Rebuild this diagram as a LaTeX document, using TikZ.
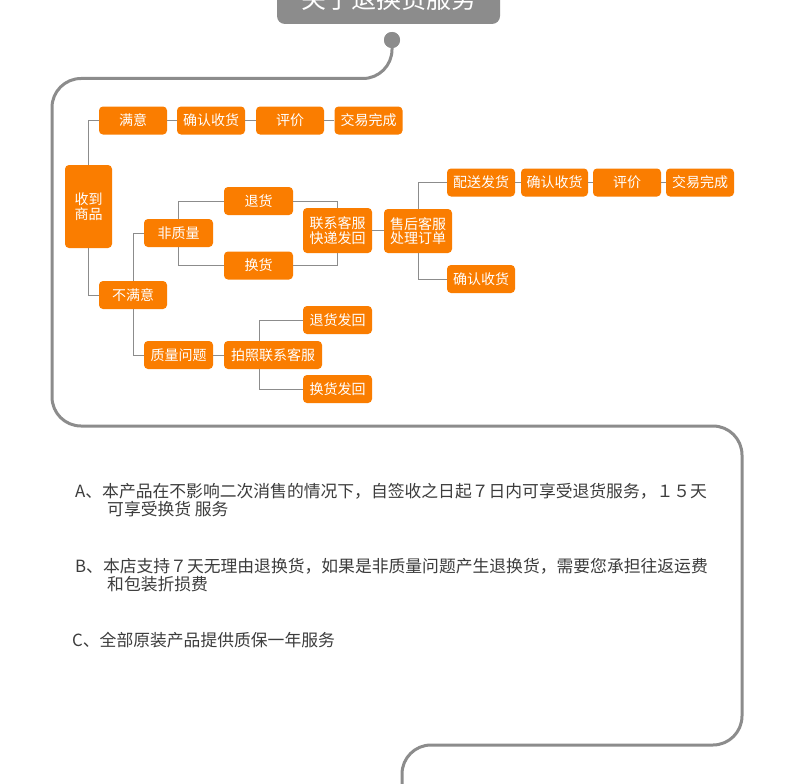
\documentclass[tikz,border=0pt]{standalone}
\usepackage{fontspec}
\setmainfont{Noto Sans CJK SC}
\definecolor{og}{RGB}{250,125,0}
\definecolor{ln}{RGB}{140,140,140}
\definecolor{tx}{RGB}{60,60,60}
\begin{document}
\begin{tikzpicture}[x=1pt,y=-1pt,
  ob/.style={fill=og,rounded corners=4pt,text=white,inner sep=0pt,
    minimum width=68pt,minimum height=28pt,align=center,
    font=\fontsize{14}{14.5}\selectfont},
  conn/.style={draw=ln,line width=1pt},
  para/.style={anchor=west,inner sep=0pt,text=tx,font=\fontsize{16.8}{18}\selectfont}]
\useasboundingbox[fill=white] (0,0) rectangle (790,784);
% title
\node[fill=ln,rounded corners=8pt,minimum width=223pt,minimum height=50pt,
  inner sep=0pt,text=white,font=\fontsize{25}{26}\selectfont] (title) at (388.5,-1) {关于退换货服务};
% main frame line
\node[circle,fill=ln,minimum size=16pt,inner sep=0pt] (dot) at (392,40) {};
\coordinate (c1) at (392,78.5);
\coordinate (c2) at (52,78.5);
\coordinate (c3) at (52,426);
\coordinate (c4) at (742,426);
\coordinate (c5) at (742,745);
\coordinate (c6) at (402,745);
\coordinate (c7) at (402,800);
\draw[ln,line width=3pt,rounded corners=29pt] (dot.center) -- (c1) -- (c2) -- (c3) -- (c4) -- (c5) -- (c6) -- (c7);
\node[circle,fill=ln,minimum size=16pt,inner sep=0pt] at (392,40) {};
% nodes
\node[ob] (my) at (133,120.5) {满意};
\node[ob] (qr1) at (211,120.5) {确认收货};
\node[ob] (pj1) at (290,120.5) {评价};
\node[ob] (jy1) at (368.5,120.5) {交易完成};
\node[ob,minimum width=47pt,minimum height=83pt] (sd) at (88.5,206.5) {收到\\商品};
\node[ob,minimum width=69pt] (th) at (258.5,201) {退货};
\node[ob,minimum width=69pt] (fzl) at (178.5,233) {非质量};
\node[ob,minimum width=69pt,minimum height=45pt] (lx) at (337.5,230.5) {联系客服\\快递发回};
\node[ob,minimum height=44pt] (sh) at (418,231) {售后客服\\处理订单};
\node[ob] (ps) at (481,182.5) {配送发货};
\node[ob,minimum width=67pt] (qr2) at (554.5,182.5) {确认收货};
\node[ob] (pj2) at (627,182.5) {评价};
\node[ob] (jy2) at (700,182.5) {交易完成};
\node[ob] (qr3) at (481,279) {确认收货};
\node[ob,minimum width=69pt] (hh) at (258.5,265.5) {换货};
\node[ob] (bmy) at (133,295) {不满意};
\node[ob,minimum width=69pt] (thfh) at (337.5,320) {退货发回};
\node[ob,minimum width=69pt] (zl) at (178.5,355) {质量问题};
\node[ob,minimum width=98pt] (pz) at (273,355) {拍照联系客服};
\node[ob,minimum width=69pt] (hhfh) at (337.5,389) {换货发回};
% connectors
\draw[conn] (sd.north) |- (my.west);
\draw[conn] (my) -- (qr1);
\draw[conn] (qr1) -- (pj1);
\draw[conn] (pj1) -- (jy1);
\draw[conn] (sd.south) |- (bmy.west);
\draw[conn] (bmy.north) |- (fzl.west);
\draw[conn] (bmy.south) |- (zl.west);
\draw[conn] (fzl.north) |- (th.west);
\draw[conn] (fzl.south) |- (hh.west);
\draw[conn] (th.east) -| (lx.north);
\draw[conn] (hh.east) -| (lx.south);
\draw[conn] (lx.east) -- (lx.east -| sh.west);
\draw[conn] (sh.north) |- (ps.west);
\draw[conn] (sh.south) |- (qr3.west);
\draw[conn] (ps) -- (qr2);
\draw[conn] (qr2) -- (pj2);
\draw[conn] (pj2) -- (jy2);
\draw[conn] (zl) -- (pz);
\coordinate (v) at (259,0);
\draw[conn] (pz.north -| v) |- (thfh.west);
\draw[conn] (pz.south -| v) |- (hhfh.west);
% paragraphs
\node[para] (pa1) at (75,491) {A、本产品在不影响二次消售的情况下，自签收之日起７日内可享受退货服务，１５天};
\node[para] (pa2) at (107,509) {可享受换货 服务};
\node[para] (pb1) at (75,566) {B、本店支持７天无理由退换货，如果是非质量问题产生退换货，需要您承担往返运费};
\node[para] (pb2) at (107,584) {和包装折损费};
\node[para] (pc1) at (72,640) {C、全部原装产品提供质保一年服务};
\end{tikzpicture}
\end{document}
